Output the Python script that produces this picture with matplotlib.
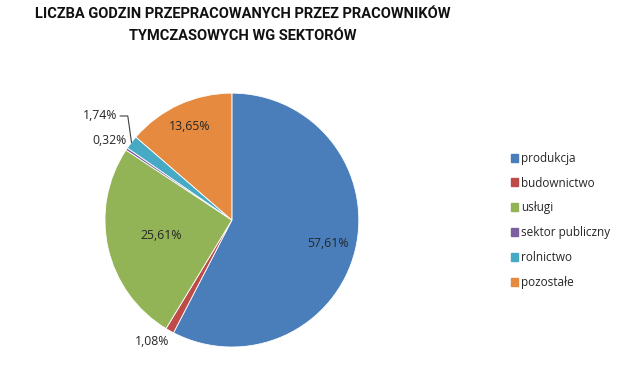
import numpy as np
import matplotlib
matplotlib.use("Agg")
import matplotlib.pyplot as plt

categories = ["produkcja", "budownictwo", "usługi", "sektor publiczny", "rolnictwo", "pozostałe"]
values = [57.61, 1.08, 25.61, 0.32, 1.74, 13.65]
labels = ["57,61%", "1,08%", "25,61%", "0,32%", "1,74%", "13,65%"]
colors = ["#4A7EBB", "#BE4B48", "#93B456", "#7D60A0", "#46AAC5", "#E58A3E"]
title = "LICZBA GODZIN PRZEPRACOWANYCH PRZEZ PRACOWNIKÓW\nTYMCZASOWYCH WG SEKTORÓW"

# label radial distances (style)
label_r = [0.78, 1.15, 0.57, 1.24, 1.32, 0.81]

plt.rcParams['font.family'] = ['Open Sans', 'DejaVu Sans']

fig = plt.figure(figsize=(6.2, 3.69), dpi=100)
ax = fig.add_axes([0.169, 0.0596, 0.41, 0.688])
wedges, _ = ax.pie(values, colors=colors, startangle=90, counterclock=False,
                   wedgeprops=dict(edgecolor="white", linewidth=0.6))
ax.set_aspect("equal")
ax.set_xlim(-1, 1)
ax.set_ylim(-1, 1)

fs = 8.8
for i, w in enumerate(wedges):
    ang = np.deg2rad((w.theta1 + w.theta2) / 2)
    r = label_r[i]
    x, y = r * np.cos(ang), r * np.sin(ang)
    if labels[i] == "1,74%":
        ex, ey = np.cos(ang), np.sin(ang)
        lx, ly = -0.98, 0.82
        ax.plot([lx + 0.10, lx + 0.16, ex], [ly, ly, ey], color="#404040", lw=0.8,
                clip_on=False)
        ax.text(lx + 0.08, ly, labels[i], ha="right", va="center", fontsize=fs,
                color="#262626")
    elif labels[i] == "0,32%":
        ax.text(-0.83, 0.63, labels[i], ha="right", va="center", fontsize=fs,
                color="#262626")
    elif labels[i] == "1,08%":
        ax.text(-0.63, -0.96, labels[i], ha="center", va="center", fontsize=fs,
                color="#262626")
    else:
        ax.text(x, y, labels[i], ha="center", va="center", fontsize=fs,
                color="#262626")

fig.text(243 / 620, 1 - 25 / 369, title, ha="center", va="center",
         fontsize=10.5, fontweight="bold", color="#111111", linespacing=1.75,
         family=["Roboto", "DejaVu Sans"])

handles = [plt.Rectangle((0, 0), 1, 1, color=c) for c in colors]
leg = fig.legend(handles, categories, loc="upper left",
                 bbox_to_anchor=(506 / 620, 1 - 147 / 369), frameon=False,
                 fontsize=8.5, handlelength=0.65, handleheight=0.65,
                 handletextpad=0.2, labelspacing=1.0, borderaxespad=0)
for t in leg.get_texts():
    t.set_color("#262626")

fig.savefig("out.png", dpi=100, facecolor="white")
